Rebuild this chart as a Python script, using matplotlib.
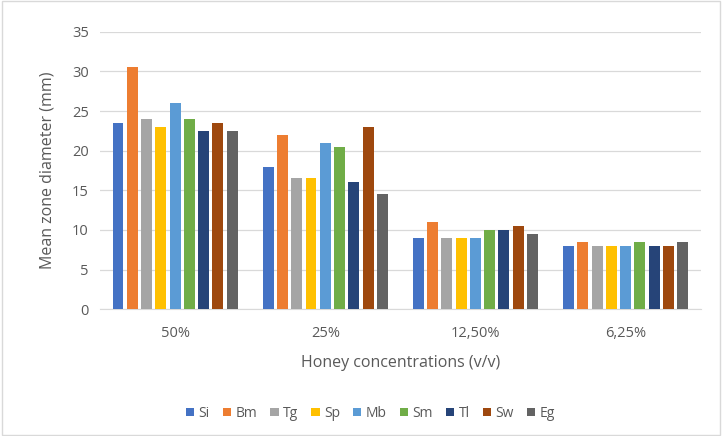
import matplotlib
matplotlib.use("Agg")
import matplotlib.pyplot as plt
import numpy as np

categories = ["50%", "25%", "12,50%", "6,25%"]
series_names = ["Si", "Bm", "Tg", "Sp", "Mb", "Sm", "Tl", "Sw", "Eg"]
Si = [23.5, 18, 9, 8]
Bm = [30.5, 22, 11, 8.5]
Tg = [24, 16.5, 9, 8]
Sp = [23, 16.5, 9, 8]
Mb = [26, 21, 9, 8]
Sm = [24, 20.5, 10, 8.5]
Tl = [22.5, 16, 10, 8]
Sw = [23.5, 23, 10.5, 8]
Eg = [22.5, 14.5, 9.5, 8.5]
values = [Si, Bm, Tg, Sp, Mb, Sm, Tl, Sw, Eg]
colors = ["#4472C4", "#ED7D31", "#A5A5A5", "#FFC000", "#5B9BD5",
          "#70AD47", "#264478", "#9E480E", "#636363"]

plt.rcParams['font.family'] = ['Open Sans', 'DejaVu Sans']
fig = plt.figure(figsize=(7.22, 4.36), dpi=100)
fig.patch.set_facecolor("white")
ax = fig.add_axes([0.1385, 0.291, 0.832, 0.636])

x = np.arange(len(categories))
slot = 0.095
bw = 0.073
n = len(series_names)
for i, (name, vals, c) in enumerate(zip(series_names, values, colors)):
    ax.bar(x + (i - (n - 1) / 2) * slot, vals, width=bw, color=c, label=name, zorder=3)

ax.set_xlim(-0.5, len(categories) - 0.5)
ax.set_ylim(0, 35)
ax.set_yticks(range(0, 36, 5))
ax.set_xticks(x)
ax.set_xticklabels(categories)
ax.grid(axis="y", color="#D9D9D9", linewidth=0.9, zorder=0)
for s in ["top", "right", "left"]:
    ax.spines[s].set_visible(False)
ax.spines["bottom"].set_color("#D9D9D9")
ax.tick_params(axis="both", length=0, colors="#595959", labelsize=10.5)
ax.tick_params(axis="x", pad=12)
ax.tick_params(axis="y", pad=8)
ax.set_xlabel("Honey concentrations (v/v)", fontsize=11.5, color="#595959", labelpad=10)
ax.set_ylabel("Mean zone diameter (mm)", fontsize=11.5, color="#595959", labelpad=12)

leg = fig.legend(loc="center", bbox_to_anchor=(0.513, 0.052), ncol=9, frameon=False,
                 fontsize=10, handlelength=0.6, handleheight=0.6, handletextpad=0.3,
                 columnspacing=0.95)
for t in leg.get_texts():
    t.set_color("#595959")

border = plt.Rectangle((0.003, 0.003), 0.994, 0.994, transform=fig.transFigure,
                       fill=False, edgecolor="#D9D9D9", linewidth=1)
fig.patches.append(border)

fig.savefig("out.png", dpi=100)
